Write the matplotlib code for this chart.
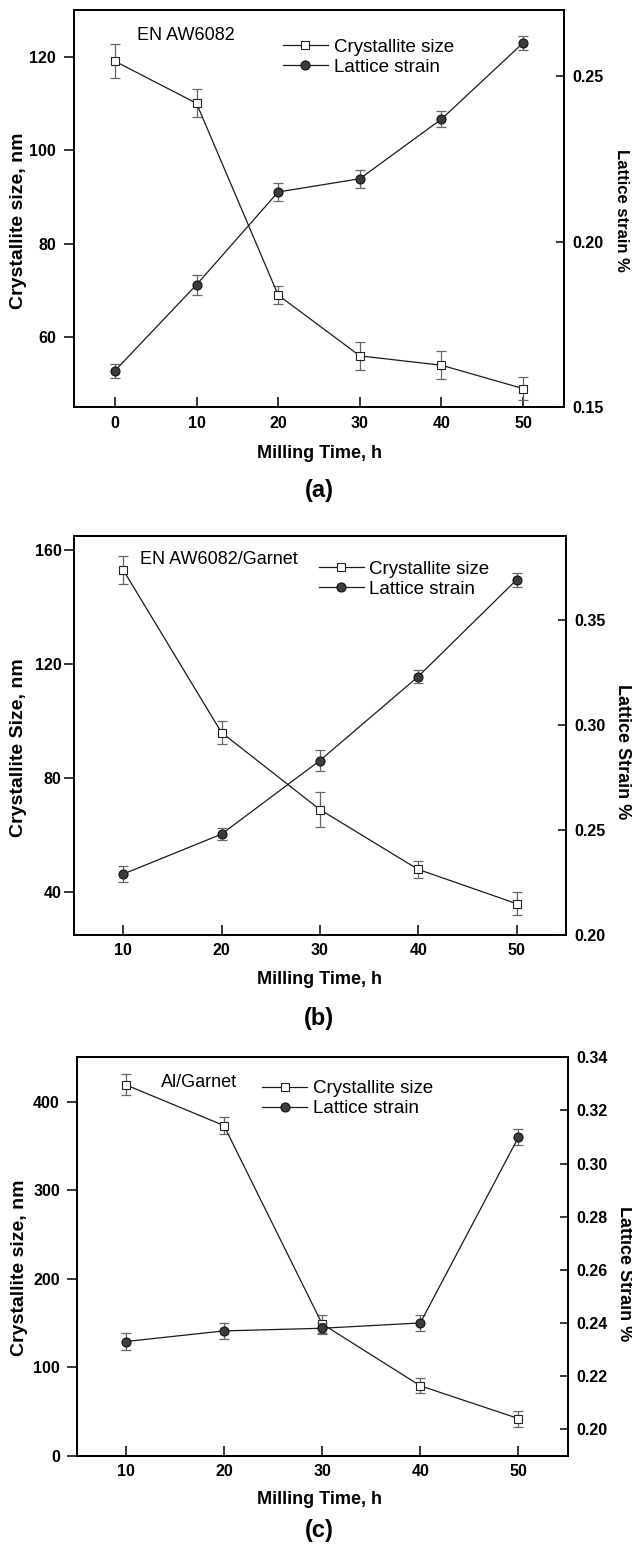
import matplotlib
matplotlib.use("Agg")
import matplotlib.pyplot as plt

plt.rcParams['font.family'] = ['Liberation Sans', 'DejaVu Sans']

# ---- data ----
time_a = [0, 10, 20, 30, 40, 50]
size_a = [119, 110, 69, 56, 54, 49]
size_err_a = [3.6, 3.0, 2.0, 3.0, 3.0, 2.5]
strain_a = [0.161, 0.187, 0.215, 0.219, 0.237, 0.260]
strain_err_a = [0.002, 0.003, 0.0027, 0.0027, 0.0023, 0.002]

time_b = [10, 20, 30, 40, 50]
size_b = [153, 96, 69, 48, 36]
size_err_b = [5, 4, 6, 3, 4]
strain_b = [0.229, 0.248, 0.283, 0.323, 0.369]
strain_err_b = [0.004, 0.003, 0.005, 0.0033, 0.0033]

time_c = [10, 20, 30, 40, 50]
size_c = [419, 373, 149, 79, 42]
size_err_c = [12, 10, 10, 8.5, 9]
strain_c = [0.233, 0.237, 0.238, 0.240, 0.310]
strain_err_c = [0.0033, 0.003, 0.002, 0.003, 0.003]

line_col = '#1a1a1a'
err_col = '#666666'
dot_col = '#3c3c3c'

fig = plt.figure(figsize=(6.32, 15.47), dpi=100)


def panel(rect, t, size, size_err, strain, strain_err, xlim, ylim, yticks,
          ylim2, yticks2, ytickfmt, name, name_pos, leg_pos,
          ylabel, ylabel_pos, ylabel2, ylabel2_pos, y2size,
          xlabel_y, letter, letter_y, lpad):
    ax = fig.add_axes(rect)
    ax2 = ax.twinx()

    ax.errorbar(t, size, yerr=size_err, fmt='none', ecolor=err_col,
                elinewidth=0.9, capsize=3.5, capthick=0.9, zorder=2)
    l1, = ax.plot(t, size, color=line_col, lw=0.9, marker='s', ms=5.5,
                  mfc='white', mec='#222222', mew=0.8, zorder=3,
                  label='Crystallite size')
    ax2.errorbar(t, strain, yerr=strain_err, fmt='none', ecolor=err_col,
                 elinewidth=0.9, capsize=3.5, capthick=0.9, zorder=2)
    l2, = ax2.plot(t, strain, color=line_col, lw=0.9, marker='o', ms=6.5,
                   mfc=dot_col, mec='#111111', mew=0.8, zorder=3,
                   label='Lattice strain')

    ax.set_xlim(*xlim)
    ax.set_ylim(*ylim)
    ax.set_yticks(yticks)
    ax.set_xticks(t)
    ax2.set_ylim(*ylim2)
    ax2.set_yticks(yticks2)
    ax2.set_yticklabels([ytickfmt.format(v) for v in yticks2])

    for a in (ax, ax2):
        for s in a.spines.values():
            s.set_linewidth(1.3)
    ax.tick_params(axis='y', direction='out', length=7, width=1.1, pad=lpad,
                   labelsize=11.5)
    ax.tick_params(axis='x', direction='in', length=7, width=1.1, pad=6,
                   labelsize=11.5)
    ax2.tick_params(axis='y', direction='in', length=5.5, width=1.1, pad=6,
                    labelsize=11.5)
    for lab in ax.get_xticklabels() + ax.get_yticklabels() + ax2.get_yticklabels():
        lab.set_fontweight('bold')

    ax.text(name_pos[0], name_pos[1], name, transform=ax.transAxes,
            ha='left', va='center', fontsize=13)
    ax2.legend(handles=[l1, l2], loc='center left', bbox_to_anchor=leg_pos,
               frameon=False, fontsize=13.5, borderpad=0, borderaxespad=0,
               handlelength=2.4, handletextpad=0.3, labelspacing=0.15)

    fig.text(ylabel_pos[0], ylabel_pos[1], ylabel, rotation=90, ha='center',
             va='center', fontsize=14, fontweight='bold')
    fig.text(ylabel2_pos[0], ylabel2_pos[1], ylabel2, rotation=-90,
             ha='center', va='center', fontsize=y2size, fontweight='bold')
    fig.text(0.505, xlabel_y, 'Milling Time, h', ha='center', va='center',
             fontsize=13, fontweight='bold')
    fig.text(0.505, letter_y, letter, ha='center', va='center',
             fontsize=17, fontweight='bold')
    return ax, ax2


panel([0.1171, 0.7367, 0.7753, 0.2570], time_a, size_a, size_err_a,
      strain_a, strain_err_a, (-5, 55), (45, 130), [60, 80, 100, 120],
      (0.15, 0.27), [0.15, 0.20, 0.25], '{:.2f}', 'EN AW6082',
      (0.128, 0.936), (0.4265, 0.881),
      'Crystallite size, nm', (0.0293, 1 - 221 / 1547),
      'Lattice strain %', (0.9826, 1 - 210 / 1547), 12,
      1 - 453 / 1547, '(a)', 1 - 490.5 / 1547, 6)

panel([0.1171, 0.3956, 0.7780, 0.2581], time_b, size_b, size_err_b,
      strain_b, strain_err_b, (5, 55), (25, 165), [40, 80, 120, 160],
      (0.20, 0.39), [0.20, 0.25, 0.30, 0.35], '{:.2f}', 'EN AW6082/Garnet',
      (0.134, 0.9416), (0.4973, 0.891),
      'Crystallite Size, nm', (0.0293, 1 - 748 / 1547),
      'Lattice Strain %', (0.985, 1 - 752 / 1547), 13,
      1 - 980 / 1547, '(b)', 1 - 1018 / 1547, 2)

panel([0.1212, 0.0590, 0.7769, 0.2575], time_c, size_c, size_err_c,
      strain_c, strain_err_c, (5, 55), (0, 450), [0, 100, 200, 300, 400],
      (0.19, 0.34), [0.20, 0.22, 0.24, 0.26, 0.28, 0.30, 0.32, 0.34],
      '{:.2f}', 'Al/Garnet',
      (0.172, 0.936), (0.3776, 0.896),
      'Crystallite size, nm', (0.0316, 1 - 1268 / 1547),
      'Lattice Strain %', (0.988, 1 - 1274 / 1547), 13,
      1 - 1500 / 1547, '(c)', 1 - 1531 / 1547, 5)

fig.savefig('out.png', dpi=100, facecolor='white')
